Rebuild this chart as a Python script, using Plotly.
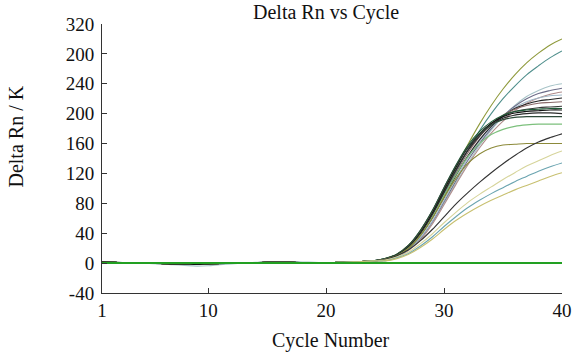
import plotly.graph_objects as go

cycles = list(range(1, 41))

# Shared baseline values for cycles 1..24
baseline_a = [1.5, 1.0, 0.5, 0.5, 0.0, -0.5, -1.0, -1.0, -1.5, -1.0, -0.5, 0.0,
              0.5, 0.5, 1.0, 1.0, 1.0, 0.5, 0.5, 0.5, 1.0, 1.5, 2.0, 3.0]
baseline_b = [1.0, 0.5, 0.0, 0.0, -0.5, -1.0, -2.0, -3.0, -4.0, -3.5, -2.0, -1.0,
              0.0, 1.0, 1.5, 2.0, 2.0, 1.5, 1.0, 0.5, 0.5, 1.0, 1.5, 2.5]

# Amplification values for cycles 25..40, with colours
curve_tails = [
    ("#8f9a3c", [6, 12, 24, 42, 67, 97, 128, 158, 186, 211, 233, 252, 268, 281, 292, 300]),
    ("#4f8f8c", [6, 11, 22, 40, 64, 93, 122, 151, 177, 200, 220, 237, 252, 264, 275, 284]),
    ("#a8c4c8", [4, 9, 18, 33, 54, 80, 107, 133, 157, 178, 196, 211, 223, 231, 237, 240]),
    ("#6c6c88", [4, 9, 18, 33, 55, 82, 110, 137, 160, 180, 197, 210, 220, 227, 231, 234]),
    ("#b08c8c", [4, 8, 17, 31, 52, 78, 105, 131, 154, 174, 190, 204, 214, 221, 226, 229]),
    ("#a0b8c8", [4, 9, 18, 34, 56, 84, 113, 140, 163, 182, 197, 208, 216, 221, 224, 225]),
    ("#222222", [5, 10, 20, 37, 60, 88, 117, 143, 165, 183, 197, 207, 213, 217, 219, 221]),
    ("#8a6a6a", [5, 10, 20, 37, 61, 90, 120, 147, 169, 186, 198, 206, 211, 214, 215, 216]),
    ("#3a3a3a", [5, 11, 22, 40, 65, 95, 125, 151, 172, 187, 197, 203, 206, 208, 209, 210]),
    ("#1f5a36", [6, 12, 24, 44, 70, 101, 131, 157, 176, 189, 198, 203, 205, 206, 207, 207]),
    ("#111111", [5, 11, 22, 41, 67, 98, 128, 154, 173, 187, 196, 201, 203, 204, 205, 205]),
    ("#2b2b2b", [5, 11, 22, 40, 65, 95, 124, 150, 170, 185, 194, 198, 200, 201, 201, 200]),
    ("#2e4a3a", [6, 12, 24, 44, 70, 101, 130, 155, 173, 185, 192, 195, 196, 196, 196, 196]),
    ("#7cc07c", [5, 10, 20, 37, 61, 90, 118, 142, 160, 172, 179, 183, 185, 186, 186, 186]),
    ("#8c8a3a", [5, 10, 20, 37, 60, 88, 113, 133, 146, 154, 158, 159, 160, 160, 160, 160]),
    ("#333333", [5, 10, 18, 30, 45, 62, 79, 94, 108, 121, 133, 144, 154, 162, 168, 173]),
    ("#d6d49a", [4, 8, 15, 26, 39, 54, 68, 81, 92, 102, 112, 121, 130, 137, 144, 150]),
    ("#6aa4b0", [3, 7, 13, 23, 35, 49, 62, 74, 84, 93, 101, 109, 116, 123, 129, 134]),
    ("#c8c070", [3, 6, 12, 21, 32, 45, 57, 67, 76, 84, 91, 98, 104, 110, 116, 121]),
]
baseline_choice = ["a", "a", "b", "a", "a", "a", "a", "a", "a", "a",
                   "a", "a", "a", "a", "a", "a", "a", "a", "a"]

negative_control = [0.0] * 40
flat_black = baseline_a[:20] + [0.5] * 20

y_tickvals = [-40, 0, 40, 80, 120, 160, 200, 240, 280, 320]
y_ticktext = ["-40", "0", "40", "80", "120", "160", "200", "240", "200", "320"]
x_tickvals = [1, 10, 20, 30, 40]
x_ticktext = ["1", "10", "20", "30", "40"]

FONT = "Liberation Serif"

fig = go.Figure()
for (color, tail), bsel in zip(curve_tails, baseline_choice):
    base = baseline_a if bsel == "a" else baseline_b
    fig.add_trace(go.Scatter(x=cycles, y=base + tail, mode="lines",
                             line=dict(color=color, width=1.1, shape="spline"),
                             showlegend=False, hoverinfo="skip"))

fig.add_trace(go.Scatter(x=cycles, y=flat_black, mode="lines",
                         line=dict(color="#111111", width=1.6, shape="spline"),
                         showlegend=False, hoverinfo="skip"))
fig.add_trace(go.Scatter(x=cycles, y=negative_control, mode="lines",
                         line=dict(color="#22a022", width=2),
                         showlegend=False, hoverinfo="skip"))

fig.update_layout(
    width=584, height=356,
    margin=dict(l=102, r=14, t=24, b=63),
    plot_bgcolor="white", paper_bgcolor="white",
    font=dict(family=FONT, size=19, color="#111111"),
    xaxis=dict(range=[1, 40], tickvals=x_tickvals, ticktext=x_ticktext,
               showgrid=False, zeroline=False, showline=True, linecolor="#333333",
               linewidth=1, ticks="inside", ticklen=5, tickcolor="#333333",
               tickfont=dict(family=FONT, size=19)),
    yaxis=dict(range=[-40, 320], tickvals=y_tickvals, ticktext=y_ticktext,
               showgrid=False, zeroline=False, showline=True, linecolor="#333333",
               linewidth=1, ticks="inside", ticklen=5, tickcolor="#333333",
               tickfont=dict(family=FONT, size=19), ticklabelstandoff=3),
    annotations=[
        dict(text="Delta Rn vs Cycle", x=330, y=13, showarrow=False,
             font=dict(family=FONT, size=20)),
        dict(text="Cycle Number", x=335, y=340, showarrow=False,
             font=dict(family=FONT, size=20)),
        dict(text="Delta Rn / K", x=14, y=137, textangle=-90, showarrow=False,
             font=dict(family=FONT, size=20)),
    ],
)

# convert pixel positions of annotations to paper coordinates
plot_l, plot_r, plot_t, plot_b = 102, 584 - 14, 24, 356 - 63
for ann in fig.layout.annotations:
    px, py = ann.x, ann.y
    ann.xref = "paper"
    ann.yref = "paper"
    ann.x = (px - plot_l) / (plot_r - plot_l)
    ann.y = (plot_b - py) / (plot_b - plot_t)
    ann.xanchor = "center"
    ann.yanchor = "middle"

fig.write_html("out.html")
